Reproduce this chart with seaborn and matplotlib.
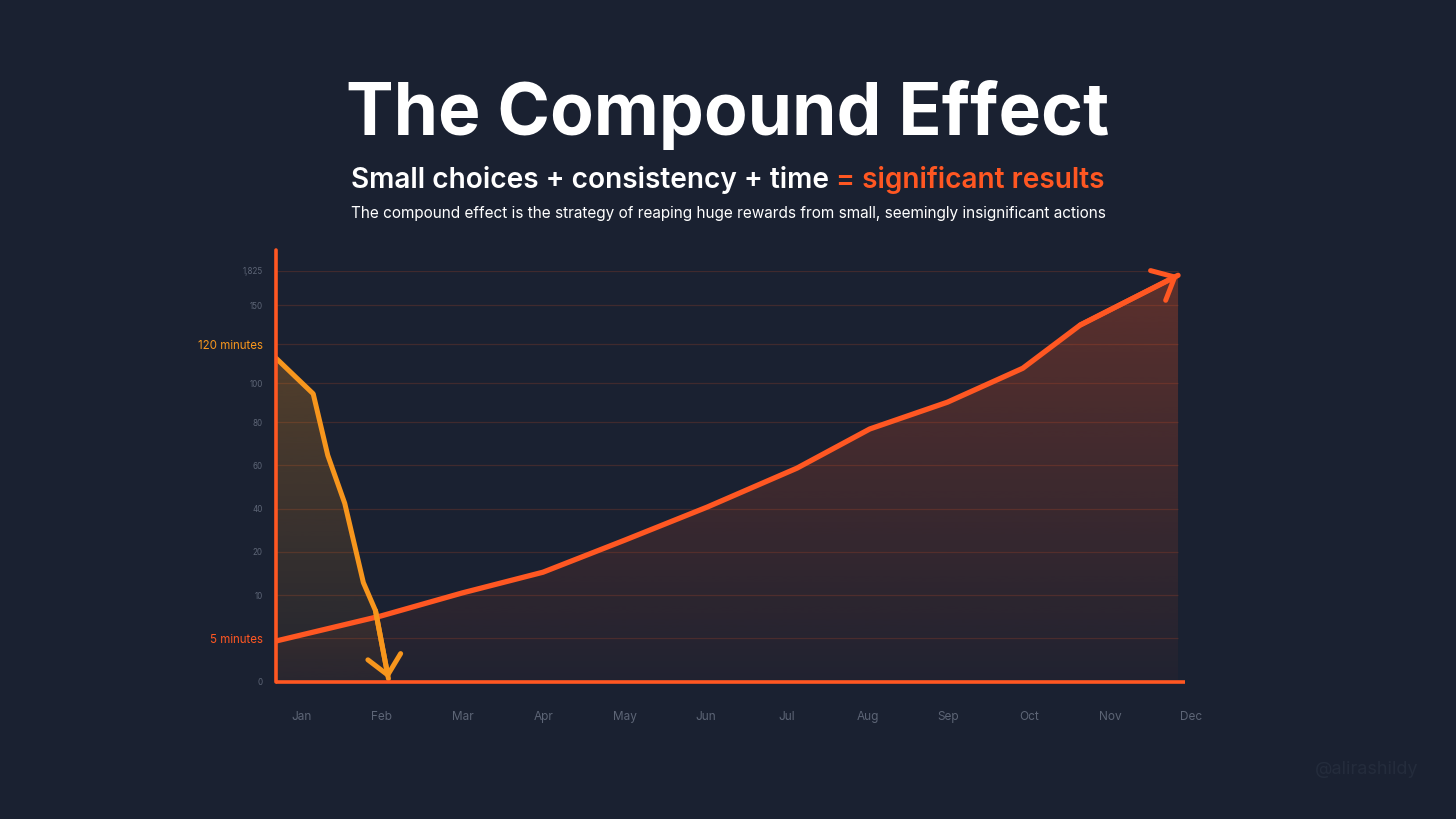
import numpy as np
import matplotlib
matplotlib.use("Agg")
import matplotlib.pyplot as plt
import seaborn as sns
import pandas as pd

# ---------------- data ----------------
months = ["Jan", "Feb", "Mar", "Apr", "May", "Jun", "Jul", "Aug", "Sep", "Oct", "Nov", "Dec"]
y_tick_values = [0, 5, 10, 20, 40, 60, 80, 100, 120, 150, 1825]
y_tick_labels = ["0", "5 minutes", "10", "20", "40", "60", "80", "100", "120 minutes", "150", "1,825"]

# habit line (120 minutes dropping to nothing), x in months from Jan
habit_x = [-0.31, 0.15, 0.33, 0.54, 0.77, 0.92, 1.08]
habit_y = [112.8, 94.5, 64.6, 42.4, 12.9, 8.2, 0.35]

# compound line (5 minutes growing)
compound_x = [-0.31, 0.99, 1.99, 2.99, 4.0, 5.02, 6.13, 7.03, 7.99, 8.92, 9.63, 10.84]
compound_y = [4.7, 7.6, 10.5, 15.3, 25.4, 40.7, 58.7, 76.8, 90.2, 107.6, 134.7, 1613]

# ---------------- style ----------------
BG = "#1a2131"
RED = "#ff5722"
ORANGE = "#f7961d"
GRID = "#ff5722"
TICK = "#5d6576"

sns.set_theme(style="dark", rc={"axes.facecolor": BG, "figure.facecolor": BG,
                                "savefig.facecolor": BG})
plt.rcParams["font.family"] = ["Inter", "DejaVu Sans"]

W, H = 1456, 819
fig = plt.figure(figsize=(W / 100, H / 100), dpi=100)

left_px, right_px = 276, 1191
bottom_px, top_px = 681.7, 271
ax = fig.add_axes([left_px / W, 1 - bottom_px / H,
                   (right_px - left_px) / W, (bottom_px - top_px) / H])

# visual (non-linear) spacing of the value axis
scale_pos = [0, 1, 2, 3, 4, 5, 6, 6.90, 7.80, 8.70, 9.49]


def fwd(v):
    return np.interp(v, y_tick_values, scale_pos)


def inv(p):
    return np.interp(p, scale_pos, y_tick_values)


ax.set_yscale("function", functions=(fwd, inv))
x_left, x_right = -0.31, 11.0
ax.set_xlim(x_left, x_right)
ax.set_ylim(0, 1825)

for s in ax.spines.values():
    s.set_visible(False)

# grid lines
ax.hlines(y_tick_values, x_left, compound_x[-1], color=GRID, alpha=0.17, lw=0.9, zorder=1)

df_c = pd.DataFrame({"month": compound_x, "value": compound_y})
df_h = pd.DataFrame({"month": habit_x, "value": habit_y})


def gradient_fill(x, y, color, a_top, a_bot, top_frac):
    coll = ax.fill_between(x, 0, y, color="none", lw=0)
    n = 256
    grad = np.zeros((n, 1, 4))
    rgb = matplotlib.colors.to_rgb(color)
    grad[:, 0, :3] = rgb
    t = np.linspace(0, 1, n)[:, None]  # 0 bottom -> 1 top
    grad[:, 0, 3] = (a_bot + (a_top - a_bot) * np.clip(t[:, 0] / top_frac, 0, 1))
    im = ax.imshow(grad, extent=[0, 1, 0, 1], transform=ax.transAxes,
                   origin="lower", aspect="auto", zorder=2, interpolation="bicubic")
    im.set_clip_path(coll.get_paths()[0], transform=ax.transData)


gradient_fill(compound_x, compound_y, RED, 0.29, 0.03, 0.98)
gradient_fill(habit_x, habit_y, ORANGE, 0.26, 0.04, 0.80)

sns.lineplot(data=df_c, x="month", y="value", color=RED, lw=3.8, ax=ax, zorder=5,
             solid_capstyle="round", solid_joinstyle="round", estimator=None)
sns.lineplot(data=df_h, x="month", y="value", color=ORANGE, lw=3.6, ax=ax, zorder=6,
             solid_capstyle="round", solid_joinstyle="round", estimator=None)

# arrow heads
for xs, ys, col, z in [(compound_x, compound_y, RED, 7), (habit_x, habit_y, ORANGE, 8)]:
    ax.annotate("", xy=(xs[-1], ys[-1]), xytext=(xs[-2], ys[-2]),
                arrowprops=dict(arrowstyle="->,head_length=0.67,head_width=0.6",
                                color=col, lw=3.6, shrinkA=0, shrinkB=0,
                                mutation_scale=20, capstyle="round", joinstyle="round"),
                zorder=z)

# axis lines (drawn, since they extend past the plotting range)
ax.plot([x_left, 10.93], [0, 0], color=RED, lw=2.6, zorder=9, clip_on=False,
        solid_capstyle="butt")
ax.axvline(x_left, ymin=0, ymax=(bottom_px - 250) / (bottom_px - top_px), color=RED,
           lw=2.6, zorder=9, clip_on=False)

# ticks
ax.set_xticks(range(len(months)))
ax.set_xticklabels(months)
ax.set_yticks(y_tick_values)
ax.set_yticklabels(y_tick_labels)
ax.yaxis.set_minor_locator(matplotlib.ticker.NullLocator())
ax.tick_params(axis="x", length=0, pad=21, labelsize=8.5, labelcolor=TICK)
ax.tick_params(axis="y", length=0, pad=9.5, labelsize=5.8, labelcolor=TICK)
for lab in ax.get_yticklabels():
    if lab.get_text() == "120 minutes":
        lab.set_color(ORANGE)
        lab.set_fontsize(8.3)
    elif lab.get_text() == "5 minutes":
        lab.set_color(RED)
        lab.set_fontsize(8.3)
ax.set_xlabel("")
ax.set_ylabel("")
ax.grid(False)

# ---------------- texts ----------------
fig.text(0.5, 1 - 135 / H, "The Compound Effect", ha="center", va="baseline",
         color="white", fontsize=51.3, fontweight="bold")

r = fig.canvas.get_renderer()
sub_y = 1 - 188 / H
t1 = fig.text(0, sub_y, "Small choices + consistency + time", ha="left", va="baseline",
              color="white", fontsize=20.2, fontweight="semibold")
t2 = fig.text(0, sub_y, "= significant results", ha="left", va="baseline",
              color=RED, fontsize=20.2, fontweight="semibold")
w1 = t1.get_window_extent(r).width
w2 = t2.get_window_extent(r).width
gap = 7
x0 = (W - (w1 + gap + w2)) / 2
t1.set_x(x0 / W)
t2.set_x((x0 + w1 + gap) / W)

fig.text(0.5, 1 - 218 / H,
         "The compound effect is the strategy of reaping huge rewards from small, seemingly insignificant actions",
         ha="center", va="baseline", color="white", fontsize=11.05)

fig.text(1367 / W, 1 - 770 / H, "@alirashildy", ha="center", va="center",
         color="#242c3c", fontsize=13)

fig.savefig("out.png", dpi=100, facecolor=BG)
